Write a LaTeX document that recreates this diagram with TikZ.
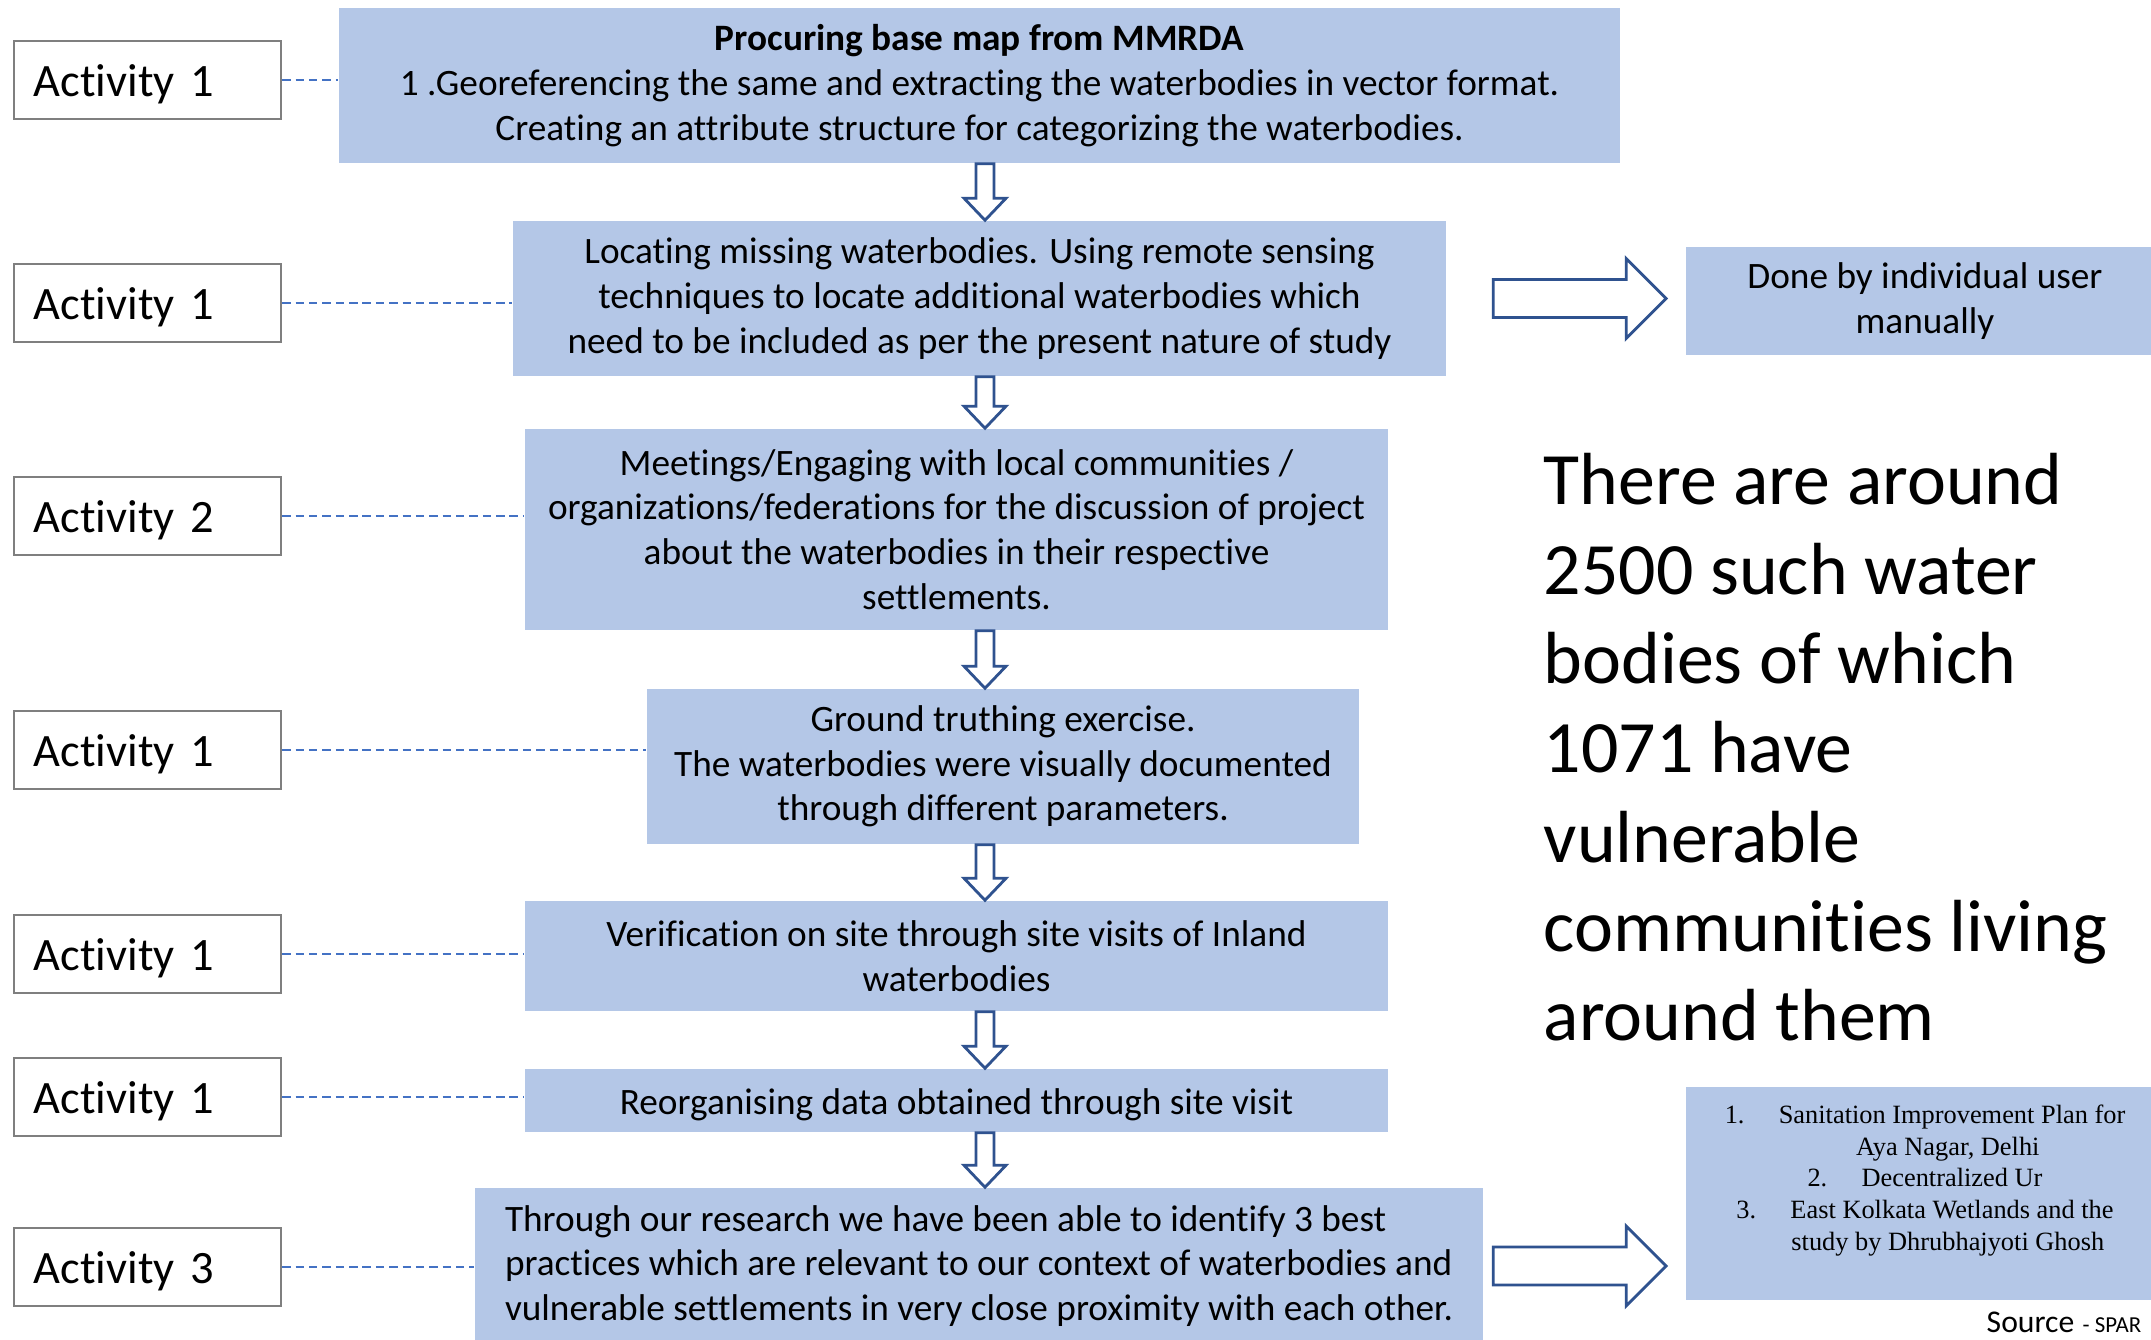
\documentclass[tikz,border=0pt]{standalone}
\usepackage{fontspec}
\setmainfont{Carlito}[Ligatures=NoCommon]
\newfontfamily\timesfont{Liberation Serif}
\usetikzlibrary{calc}

\definecolor{boxblue}{HTML}{B4C7E7}
\definecolor{arrowblue}{HTML}{2F528F}
\definecolor{linkblue}{HTML}{4472C4}
\definecolor{framegray}{HTML}{7F7F7F}

\newcommand{\hollowdown}[2]{%
  \draw[blockarrow] ($(#1.south -| spine)+(-9,0)$) -- ++(18,0)
    -- ($(#2.north -| spine)+(9,-22)$) -- ++(12,0) -- (#2.north -| spine)
    -- ++(-21,-22) -- ++(12,0) -- cycle;}
\newcommand{\hollowright}[2]{%
  \draw[blockarrow] ($(#1.east -| #2.west)+(-192,-19)$) -- ++(133,0) -- ++(0,-21)
    -- ($(#1.east -| #2.west)+(-19,0)$) -- ++(-40,40) -- ++(0,-21) -- ++(-133,0) -- cycle;}

\begin{document}
\begin{tikzpicture}[
    x=0.01cm, y=-0.01cm,
    every node/.style={font=\fontsize{10.6}{12.7}\selectfont},
    stage/.style={fill=boxblue, align=center, inner sep=0pt,
        execute at begin node=\rule{0pt}{9.5pt}},
    activity/.style={draw=framegray, line width=0.7pt, fill=white, text width=2.27cm,
        inner xsep=0.2cm, minimum height=0.78cm, align=left, font=\fontsize{13.2}{16}\selectfont,
        execute at begin node=\rule{0pt}{11.6pt}},
    link/.style={draw=linkblue, line width=0.8pt, dash pattern=on 2.4pt off 1.4pt},
    blockarrow/.style={draw=arrowblue, line width=0.8pt, fill=white, line join=miter}
]
\useasboundingbox (0,0) rectangle (2151,1340);
\clip (0,0) rectangle (2151,1340);
\fill[white] (0,0) rectangle (2151,1340);

\coordinate (spine) at (985,0);

\node[stage, minimum width=12.81cm, minimum height=1.55cm] (b1) at (979.5,85.5)
{\textbf{Procuring base map from MMRDA}\\
1 .Georeferencing the same and extracting the waterbodies in vector format.\\
Creating an attribute structure for categorizing the waterbodies.};
\node[stage, minimum width=9.33cm, minimum height=1.55cm] (b2) at (979.5,298.5)
{Locating missing waterbodies. Using remote sensing\\
techniques to locate additional waterbodies which\\
need to be included as per the present nature of study};
\node[stage, minimum width=8.63cm, minimum height=2.01cm] (b3) at (956.5,529.5)
{Meetings/Engaging with local communities /\\
organizations/federations for the discussion of project\\
about the waterbodies in their respective\\
settlements.};
\node[stage, minimum width=7.12cm, minimum height=1.55cm] (b4) at (1003,766.5)
{Ground truthing exercise.\\
The waterbodies were visually documented\\
through different parameters.};
\node[stage, minimum width=8.63cm, minimum height=1.10cm] (b5) at (956.5,956)
{Verification on site through site visits of Inland\\
waterbodies};
\node[stage, minimum width=8.63cm, minimum height=0.63cm] (b6) at (956.5,1100.5)
{Reorganising data obtained through site visit};
\node[stage, align=left, minimum width=10.08cm, minimum height=1.56cm] (b7) at (979,1266)
{Through our research we have been able to identify 3 best\\
practices which are relevant to our context of waterbodies and\\
vulnerable settlements in very close proximity with each other.};

\node[activity] (a1) at (147.5,80) {Activity 1};
\node[activity] (a2) at (147.5,303) {Activity 1};
\node[activity] (a3) at (147.5,516) {Activity 2};
\node[activity] (a4) at (147.5,750) {Activity 1};
\node[activity] (a5) at (147.5,954) {Activity 1};
\node[activity] (a6) at (147.5,1097) {Activity 1};
\node[activity] (a7) at (147.5,1267) {Activity 3};

\draw[link] (a1.east) -- (a1.east -| b1.west);
\draw[link] (a2.east) -- (a2.east -| b2.west);
\draw[link] (a3.east) -- (a3.east -| b3.west);
\draw[link] (a4.east) -- (a4.east -| b4.west);
\draw[link] (a5.east) -- (a5.east -| b5.west);
\draw[link] (a6.east) -- (a6.east -| b6.west);
\draw[link] (a7.east) -- (a7.east -| b7.west);

\hollowdown{b1}{b2}
\hollowdown{b2}{b3}
\hollowdown{b3}{b4}
\hollowdown{b4}{b5}
\hollowdown{b5}{b6}
\hollowdown{b6}{b7}

\node[stage, minimum width=4.78cm, minimum height=1.08cm] (manual) at (1925,301)
{Done by individual user\\manually};
\node[stage, minimum width=4.78cm, minimum height=2.13cm, execute at begin node={},
    font=\timesfont\fontsize{7.5}{9}\selectfont] (practices) at (1925,1193.5)
{1.\hspace{1.3em}Sanitation Improvement Plan for\\
\hspace*{13pt}Aya Nagar, Delhi\\
2.\hspace{1.3em}Decentralized Ur\\
3.\hspace{1.3em}East Kolkata Wetlands and the\\
\hspace*{13pt}study by Dhrubhajyoti Ghosh\\
\rule{0pt}{1pt}};

\hollowright{b2}{manual}
\hollowright{b7}{practices}

\node[anchor=north west, inner sep=0pt, align=left, font=\fontsize{21}{25.4}\selectfont]
(summary) at (1543,453)
{There are around\\
2500 such water\\
bodies of which\\
1071 have\\
vulnerable\\
communities living\\
around them};

\node[anchor=base west, inner sep=0pt] (source) at (1986,1332)
{{\fontsize{9}{10}\selectfont Source} {\fontsize{6.5}{8}\selectfont - SPAR}};

\end{tikzpicture}
\end{document}
